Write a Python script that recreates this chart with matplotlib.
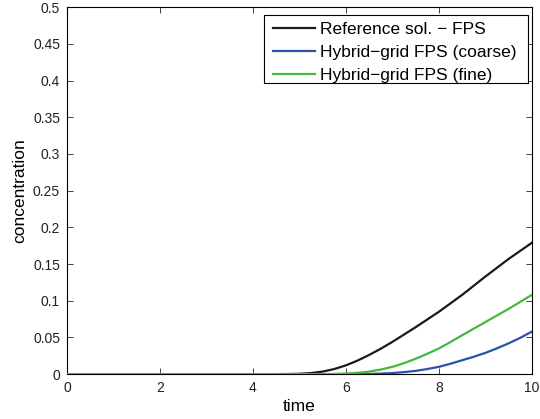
import matplotlib
matplotlib.use("Agg")
import matplotlib.pyplot as plt
from matplotlib.patches import Rectangle
import numpy as np

plt.rcParams['font.family'] = ['Liberation Sans', 'DejaVu Sans']

t_ref = [0, 1, 2, 3, 4, 4.5, 4.75, 5.0, 5.25, 5.5, 5.75, 6.0, 6.25, 6.5, 6.75, 7.0, 7.25, 7.5, 7.75,
         8.0, 8.25, 8.5, 8.75, 9.0, 9.25, 9.5, 9.75, 10.0]
c_ref = [0, 0, 0, 0, 0, 0.0001, 0.0002, 0.0005, 0.0015, 0.0035, 0.007, 0.012, 0.0185, 0.0262, 0.0347, 0.044,
         0.054, 0.064, 0.0745, 0.085, 0.0965, 0.108, 0.1205, 0.133, 0.145, 0.157, 0.168, 0.179]

t_fine = [0, 1, 2, 3, 4, 5, 5.5, 5.75, 6.0, 6.25, 6.5, 6.75, 7.0, 7.25, 7.5, 7.75, 8.0, 8.25, 8.5,
          8.75, 9.0, 9.25, 9.5, 9.75, 10.0]
c_fine = [0, 0, 0, 0, 0, 0, 0.0001, 0.0003, 0.0008, 0.0018, 0.0035, 0.0063, 0.010, 0.015, 0.021, 0.0278,
          0.035, 0.0438, 0.053, 0.062, 0.071, 0.080, 0.089, 0.0985, 0.108]

t_coarse = [0, 1, 2, 3, 4, 5, 6.0, 6.25, 6.5, 6.75, 7.0, 7.25, 7.5, 7.75, 8.0, 8.25, 8.5, 8.75, 9.0,
            9.25, 9.5, 9.75, 10.0]
c_coarse = [0, 0, 0, 0, 0, 0, 0, 0.0001, 0.0003, 0.0008, 0.0015, 0.0028, 0.0045, 0.007, 0.010, 0.0142,
            0.019, 0.0237, 0.029, 0.0352, 0.042, 0.0495, 0.058]

labels = ['Reference sol. \u2212 FPS', 'Hybrid\u2212grid FPS (coarse)', 'Hybrid\u2212grid FPS (fine)']

fig = plt.figure(figsize=(5.40, 4.19), dpi=100)
ax = fig.add_axes([0.124, 0.107, 0.861, 0.876])

ax.plot(t_ref, c_ref, color='#1a1a1a', lw=1.6, label=labels[0], zorder=3)
ax.plot(t_coarse, c_coarse, color='#2a52a8', lw=1.6, label=labels[1], zorder=3)
ax.plot(t_fine, c_fine, color='#44b83c', lw=1.6, label=labels[2], zorder=3)

ax.set_xlim(0, 10)
ax.set_ylim(0, 0.5)
ax.set_xticks(np.arange(0, 11, 2))
ax.set_yticks(np.arange(0, 0.51, 0.05))
ax.set_xticklabels([str(v) for v in range(0, 11, 2)])
ax.set_yticklabels(['0', '0.05', '0.1', '0.15', '0.2', '0.25', '0.3', '0.35', '0.4', '0.45', '0.5'])
ax.tick_params(direction='in', top=True, right=True, labelsize=10, length=4, width=0.6,
               colors='#222222', pad=5)
for s in ax.spines.values():
    s.set_linewidth(0.8)
ax.set_xlabel('time', fontsize=12.5, labelpad=3)
ax.set_ylabel('concentration', fontsize=12.5, labelpad=4)

# legend frame drawn separately so horizontal and vertical padding can differ
frame = Rectangle((0.4237, 0.793), 0.9914 - 0.4237, 0.978 - 0.793, transform=ax.transAxes,
                  facecolor='white', edgecolor='black', linewidth=0.8, zorder=4)
ax.add_patch(frame)
leg = ax.legend(loc='upper left', bbox_to_anchor=(0.443, 0.959), fontsize=12.5, frameon=False,
                borderpad=0, labelspacing=0.45, handlelength=2.4, handletextpad=0.3,
                borderaxespad=0)
leg.set_zorder(5)

fig.savefig('out.png', dpi=100)
